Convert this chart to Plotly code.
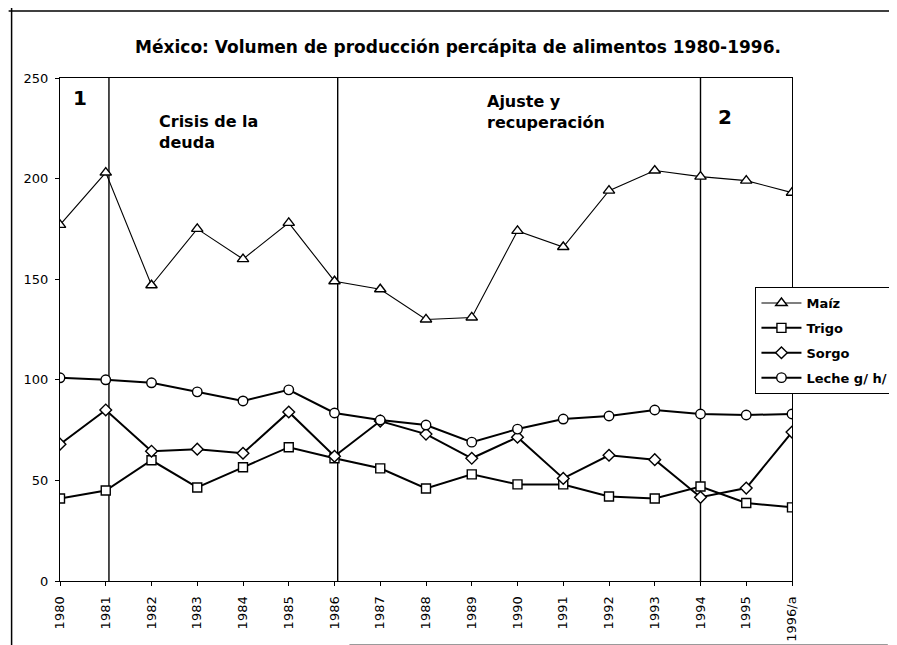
import plotly.graph_objects as go

# ---------------- data ----------------
years = ["1980", "1981", "1982", "1983", "1984", "1985", "1986", "1987", "1988",
         "1989", "1990", "1991", "1992", "1993", "1994", "1995", "1996/a"]
maiz = [177, 203, 147, 175, 160, 178, 149, 145, 130, 131, 174, 166, 194, 204, 201, 199, 193]
trigo = [41, 45, 60, 46.5, 56.5, 66.5, 61, 56, 46, 53, 48, 48, 42, 41, 47, 38.8, 36.6]
sorgo = [68, 85, 64.5, 65.5, 63.5, 84, 62, 79.5, 73, 61, 71.5, 51, 62.5, 60.3, 41.6, 46.2, 74]
leche = [101, 100, 98.5, 94, 89.5, 95, 83.5, 80, 77.5, 69, 75.5, 80.5, 82, 85, 83, 82.5, 83]
series_names = ["Maíz", "Trigo", "Sorgo", "Leche g/ h/"]
period_breaks = ["1981", "1986", "1994"]
y_ticks = [0, 50, 100, 150, 200, 250]

title_text = "México: Volumen de producción percápita de alimentos 1980-1996."

# ---------------- layout geometry (pixels) ----------------
W, H = 897, 645
L, R, T, B = 52, 793, 70, 573  # plot area edges in px
BFONT = "DejaVu Sans, Liberation Sans, sans-serif"

def pxx(px):
    return (px - L) / (R - L)

def pxy(py):
    return (B - py) / (B - T)

xs = list(range(len(years)))

fig = go.Figure()

styles = [
    (maiz, "triangle-up", 10, 1.1),
    (trigo, "square", 9, 2),
    (sorgo, "diamond", 9, 2),
    (leche, "circle", 9.5, 2),
]
for i, (vals, sym, size, lw) in enumerate(styles):
    fig.add_trace(go.Scatter(
        x=xs, y=vals, name=series_names[i], mode="lines+markers",
        line=dict(color="black", width=lw),
        marker=dict(symbol=sym, size=size, color="white",
                    line=dict(color="black", width=1.4)),
        legendgroup=f"g{i}",
    ))

shapes = []
for yr in period_breaks:
    xv = years.index(yr) + (0.07 if yr != "1994" else 0.0)
    shapes.append(dict(type="line", xref="x", yref="y", x0=xv, x1=xv, y0=0, y1=250,
                       line=dict(color="black", width=1.4), layer="below"))

# page frame (scanned page border)
shapes.append(dict(type="line", xref="paper", yref="paper",
                   x0=pxx(3), x1=pxx(3), y0=pxy(0), y1=pxy(H),
                   line=dict(color="black", width=1.5)))
shapes.append(dict(type="line", xref="paper", yref="paper",
                   x0=pxx(0), x1=pxx(W), y0=pxy(3), y1=pxy(3),
                   line=dict(color="black", width=1.5)))
shapes.append(dict(type="line", xref="paper", yref="paper",
                   x0=pxx(345), x1=pxx(890), y0=pxy(637), y1=pxy(637),
                   line=dict(color="#9a9a9a", width=2)))

annotations = [
    dict(text="<b>1</b>", x=pxx(72), y=pxy(90), xref="paper", yref="paper",
         xanchor="center", yanchor="middle", showarrow=False,
         font=dict(family=BFONT, size=20, color="black")),
    dict(text="<b>Crisis de la<br>deuda</b>", x=pxx(150), y=pxy(102), xref="paper", yref="paper",
         xanchor="left", yanchor="top", align="left", showarrow=False,
         font=dict(family=BFONT, size=16, color="black")),
    dict(text="<b>Ajuste y<br>recuperación</b>", x=pxx(482), y=pxy(82), xref="paper", yref="paper",
         xanchor="left", yanchor="top", align="left", showarrow=False,
         font=dict(family=BFONT, size=16, color="black")),
    dict(text="<b>2</b>", x=pxx(725), y=pxy(109), xref="paper", yref="paper",
         xanchor="center", yanchor="middle", showarrow=False,
         font=dict(family=BFONT, size=20, color="black")),
]

fig.update_layout(
    width=W, height=H,
    margin=dict(l=L, r=W - R, t=T, b=H - B, pad=0),
    paper_bgcolor="white", plot_bgcolor="white",
    font=dict(family=BFONT, size=13, color="black"),
    title=dict(text=f"<b>{title_text}</b>", x=450 / W, xanchor="center",
               y=1 - 39 / H, yanchor="middle", yref="container",
               font=dict(family=BFONT, size=17, color="black")),
    xaxis=dict(range=[0, 16], tickvals=xs, ticktext=years, tickangle=-90,
               showgrid=False, zeroline=False, showline=True, mirror=True,
               linecolor="black", linewidth=1.2, ticks="outside", ticklen=4,
               tickcolor="black", ticklabelstandoff=5,
               tickfont=dict(family=BFONT, size=13, color="black")),
    yaxis=dict(range=[0, 250], tickvals=y_ticks, showgrid=False, zeroline=False,
               showline=True, mirror=True, linecolor="black", linewidth=1.2,
               ticks="outside", ticklen=4, tickcolor="black", ticklabelstandoff=4,
               tickfont=dict(family=BFONT, size=13, color="black")),
    legend=dict(x=pxx(756), y=pxy(279), xanchor="left", yanchor="top",
                bgcolor="white", bordercolor="black", borderwidth=1,
                font=dict(family=BFONT, size=13, color="black", weight="bold"),
                tracegroupgap=5, itemwidth=40),
    showlegend=True,
    shapes=shapes,
    annotations=annotations,
)

fig.write_html("out.html")
